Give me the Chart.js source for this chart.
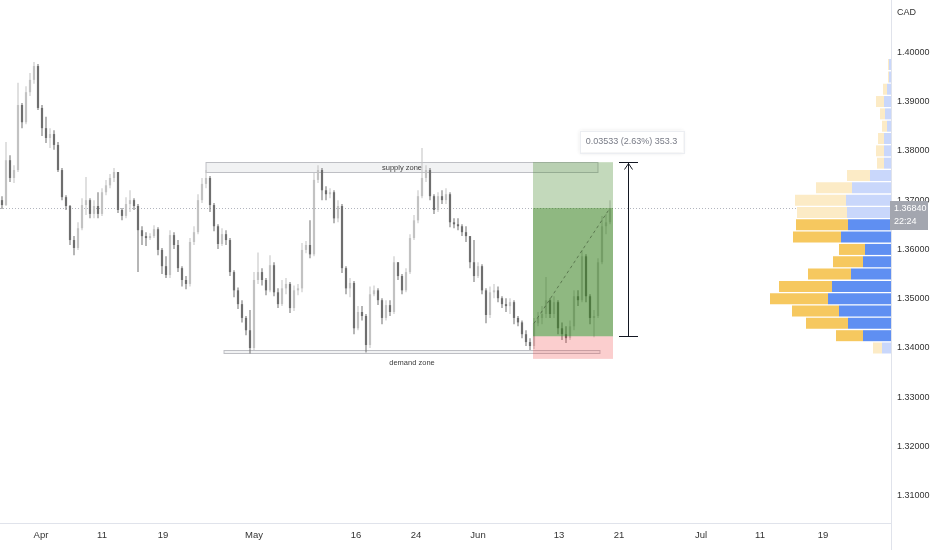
<!DOCTYPE html>
<html lang="en">
<head>
    <meta charset="UTF-8">
    <title>CAD 4H chart</title>
    <script src="https://cdn.jsdelivr.net/npm/chart.js"></script>
    <style>
        html, body { margin: 0; padding: 0; background: #ffffff; }
        #wrap { position: relative; width: 932px; height: 550px; }
    </style>
</head>
<body>
    <div id="wrap"><canvas id="chart"></canvas></div>

    <script>
        // candles
        const opens = [
            1.3700, 1.3690, 1.3781, 1.3745, 1.3761, 1.3893, 1.3858, 1.3919, 1.3944, 1.3972,
            1.3887, 1.3846, 1.3826, 1.3834, 1.3812, 1.3761, 1.3706, 1.3688, 1.3619, 1.3603,
            1.3643, 1.3690, 1.3700, 1.3672, 1.3688, 1.3672, 1.3716, 1.3730, 1.3745, 1.3757,
            1.3680, 1.3668, 1.3692, 1.3700, 1.3688, 1.3639, 1.3627, 1.3623, 1.3627, 1.3641,
            1.3599, 1.3566, 1.3548, 1.3629, 1.3609, 1.3562, 1.3538, 1.3530, 1.3615, 1.3635,
            1.3700, 1.3733, 1.3745, 1.3690, 1.3647, 1.3611, 1.3631, 1.3619, 1.3554, 1.3517,
            1.3489, 1.3461, 1.3436, 1.3400, 1.3538, 1.3554, 1.3538, 1.3517, 1.3568, 1.3513,
            1.3489, 1.3521, 1.3530, 1.3481, 1.3517, 1.3521, 1.3599, 1.3609, 1.3590, 1.3741,
            1.3761, 1.3720, 1.3712, 1.3716, 1.3663, 1.3688, 1.3562, 1.3521, 1.3532, 1.3440,
            1.3473, 1.3465, 1.3406, 1.3509, 1.3517, 1.3497, 1.3461, 1.3487, 1.3473, 1.3574,
            1.3546, 1.3517, 1.3554, 1.3623, 1.3659, 1.3708, 1.3745, 1.3761, 1.3708, 1.3680,
            1.3708, 1.3700, 1.3712, 1.3655, 1.3651, 1.3647, 1.3635, 1.3627, 1.3574, 1.3546,
            1.3566, 1.3517, 1.3467, 1.3513, 1.3517, 1.3501, 1.3489, 1.3485, 1.3493, 1.3461,
            1.3452, 1.3428, 1.3412, 1.3404, 1.3450, 1.3461, 1.3469, 1.3497, 1.3469, 1.3493,
            1.3440, 1.3428, 1.3420, 1.3444, 1.3505, 1.3497, 1.3586, 1.3505, 1.3461, 1.3465,
            1.3574, 1.3647, 1.3655
        ];
        const highs = [
            1.3708, 1.3818, 1.3791, 1.3771, 1.3938, 1.3897, 1.3931, 1.3958, 1.3980, 1.3976,
            1.3893, 1.3869, 1.3846, 1.3842, 1.3818, 1.3765, 1.3710, 1.3690, 1.3627, 1.3655,
            1.3704, 1.3747, 1.3704, 1.3700, 1.3716, 1.3724, 1.3741, 1.3753, 1.3765, 1.3757,
            1.3684, 1.3706, 1.3720, 1.3704, 1.3692, 1.3647, 1.3635, 1.3633, 1.3649, 1.3645,
            1.3603, 1.3586, 1.3639, 1.3635, 1.3619, 1.3566, 1.3546, 1.3623, 1.3647, 1.3712,
            1.3745, 1.3761, 1.3749, 1.3694, 1.3651, 1.3643, 1.3639, 1.3623, 1.3558, 1.3523,
            1.3497, 1.3465, 1.3477, 1.3554, 1.3594, 1.3562, 1.3542, 1.3588, 1.3574, 1.3521,
            1.3538, 1.3542, 1.3534, 1.3527, 1.3530, 1.3613, 1.3617, 1.3659, 1.3755, 1.3771,
            1.3765, 1.3728, 1.3724, 1.3720, 1.3700, 1.3692, 1.3566, 1.3542, 1.3536, 1.3485,
            1.3485, 1.3469, 1.3525, 1.3527, 1.3521, 1.3501, 1.3497, 1.3497, 1.3586, 1.3574,
            1.3550, 1.3562, 1.3631, 1.3670, 1.3720, 1.3806, 1.3771, 1.3765, 1.3712, 1.3716,
            1.3720, 1.3724, 1.3716, 1.3663, 1.3663, 1.3651, 1.3647, 1.3627, 1.3619, 1.3574,
            1.3570, 1.3521, 1.3525, 1.3530, 1.3525, 1.3505, 1.3501, 1.3501, 1.3497, 1.3465,
            1.3456, 1.3436, 1.3420, 1.3461, 1.3473, 1.3485, 1.3544, 1.3501, 1.3505, 1.3497,
            1.3452, 1.3444, 1.3456, 1.3517, 1.3517, 1.3599, 1.3590, 1.3509, 1.3477, 1.3582,
            1.3668, 1.3672, 1.3700
        ];
        const lows = [
            1.3682, 1.3688, 1.3737, 1.3735, 1.3757, 1.3846, 1.3854, 1.3911, 1.3936, 1.3883,
            1.3830, 1.3816, 1.3806, 1.3802, 1.3757, 1.3700, 1.3680, 1.3609, 1.3588, 1.3599,
            1.3639, 1.3670, 1.3663, 1.3663, 1.3663, 1.3668, 1.3710, 1.3724, 1.3737, 1.3674,
            1.3659, 1.3663, 1.3676, 1.3680, 1.3554, 1.3609, 1.3607, 1.3619, 1.3623, 1.3588,
            1.3550, 1.3542, 1.3542, 1.3601, 1.3554, 1.3525, 1.3519, 1.3525, 1.3609, 1.3631,
            1.3694, 1.3724, 1.3676, 1.3637, 1.3601, 1.3607, 1.3609, 1.3546, 1.3503, 1.3479,
            1.3452, 1.3426, 1.3389, 1.3396, 1.3530, 1.3527, 1.3507, 1.3513, 1.3505, 1.3481,
            1.3485, 1.3509, 1.3471, 1.3475, 1.3507, 1.3513, 1.3592, 1.3582, 1.3586, 1.3735,
            1.3700, 1.3700, 1.3704, 1.3653, 1.3655, 1.3552, 1.3509, 1.3503, 1.3428, 1.3436,
            1.3456, 1.3391, 1.3400, 1.3505, 1.3487, 1.3448, 1.3456, 1.3465, 1.3469, 1.3538,
            1.3509, 1.3513, 1.3550, 1.3619, 1.3653, 1.3704, 1.3737, 1.3700, 1.3672, 1.3676,
            1.3692, 1.3692, 1.3645, 1.3643, 1.3639, 1.3627, 1.3615, 1.3562, 1.3534, 1.3542,
            1.3509, 1.3450, 1.3461, 1.3501, 1.3493, 1.3481, 1.3473, 1.3469, 1.3448, 1.3444,
            1.3420, 1.3404, 1.3396, 1.3398, 1.3444, 1.3448, 1.3461, 1.3461, 1.3461, 1.3428,
            1.3416, 1.3410, 1.3416, 1.3436, 1.3485, 1.3493, 1.3493, 1.3448, 1.3422, 1.3461,
            1.3570, 1.3631, 1.3651
        ];
        const closes = [
            1.3690, 1.3781, 1.3745, 1.3761, 1.3893, 1.3858, 1.3919, 1.3944, 1.3972, 1.3887,
            1.3846, 1.3826, 1.3834, 1.3812, 1.3761, 1.3706, 1.3688, 1.3619, 1.3603, 1.3643,
            1.3690, 1.3700, 1.3672, 1.3688, 1.3672, 1.3716, 1.3730, 1.3745, 1.3757, 1.3680,
            1.3668, 1.3692, 1.3700, 1.3688, 1.3639, 1.3627, 1.3623, 1.3627, 1.3641, 1.3599,
            1.3566, 1.3548, 1.3629, 1.3609, 1.3562, 1.3538, 1.3530, 1.3615, 1.3635, 1.3700,
            1.3733, 1.3745, 1.3690, 1.3647, 1.3611, 1.3631, 1.3619, 1.3554, 1.3517, 1.3489,
            1.3461, 1.3436, 1.3400, 1.3538, 1.3554, 1.3538, 1.3517, 1.3568, 1.3513, 1.3489,
            1.3521, 1.3530, 1.3481, 1.3517, 1.3521, 1.3599, 1.3609, 1.3590, 1.3741, 1.3761,
            1.3720, 1.3712, 1.3716, 1.3663, 1.3688, 1.3562, 1.3521, 1.3532, 1.3440, 1.3473,
            1.3465, 1.3406, 1.3509, 1.3517, 1.3497, 1.3461, 1.3487, 1.3473, 1.3574, 1.3546,
            1.3517, 1.3554, 1.3623, 1.3659, 1.3708, 1.3745, 1.3761, 1.3708, 1.3680, 1.3708,
            1.3700, 1.3712, 1.3655, 1.3651, 1.3647, 1.3635, 1.3627, 1.3574, 1.3546, 1.3566,
            1.3517, 1.3467, 1.3513, 1.3517, 1.3501, 1.3489, 1.3485, 1.3493, 1.3461, 1.3452,
            1.3428, 1.3412, 1.3404, 1.3450, 1.3461, 1.3469, 1.3497, 1.3469, 1.3493, 1.3440,
            1.3428, 1.3420, 1.3444, 1.3505, 1.3497, 1.3586, 1.3505, 1.3461, 1.3465, 1.3574,
            1.3647, 1.3655, 1.3684
        ];

        // time axis (in candle slots) and price axis
        const dateTickPos = [9.75, 25, 40.25, 63, 88.5, 103.5, 119, 139.25, 154.25, 174.75, 189.5, 205.25];
        const dateTickLabels = ['Apr', '11', '19', 'May', '16', '24', 'Jun', '13', '21', 'Jul', '11', '19'];
        const priceTicks = [1.31, 1.32, 1.33, 1.34, 1.35, 1.36, 1.37, 1.38, 1.39, 1.40];

        // volume profile rows
        const vpLevels = [
            1.3400, 1.3425, 1.3450, 1.3475, 1.3500, 1.3525, 1.3550, 1.3575, 1.3600, 1.3625, 1.3650, 1.3675,
            1.3700, 1.3725, 1.3750, 1.3775, 1.3800, 1.3825, 1.3850, 1.3875, 1.3900, 1.3925, 1.3950, 1.3975
        ];
        const vpBuy = [9, 28, 43, 52, 63, 59, 40, 28, 26, 50, 43, 44, 45, 39, 21, 7, 7, 7, 4, 6, 7, 4, 2, 2];
        const vpSell = [9, 27, 42, 47, 58, 53, 43, 30, 26, 48, 52, 50, 51, 36, 23, 7, 8, 6, 5, 5, 8, 4, 1, 1];
        const valueArea = [1.3425, 1.3650];

        // drawings
        const lastPrice = 1.36840;
        const countdown = '22:24';
        const currency = 'CAD';
        const supplyZone = { from: 51, to: 149, top: 1.3778, bottom: 1.3758 };
        const demandZone = { from: 55.5, to: 149.5, top: 1.3395, bottom: 1.3390 };
        const longPos = { from: 132.75, to: 152.75, entry: 1.34237, target: 1.37770, stop: 1.3378 };
        const progress = { from: 133, to: 152 };
        const measure = { at: 156.5, half: 2.5, from: 1.34237, to: 1.37770, label: '0.03533 (2.63%) 353.3' };

        const FONT = "'Liberation Sans', Arial, sans-serif";
        const upColor = '#c2c2c2';
        const downColor = '#6e6e6e';

        const slots = closes.map((c, i) => i);
        const candleColors = slots.map(i => closes[i] >= opens[i] ? upColor : downColor);
        const inVA = p => p >= valueArea[0] && p <= valueArea[1];

        const overlay = {
            id: 'overlay',
            beforeDatasetsDraw(chart) {
                const { ctx, chartArea: a, scales: { x, y } } = chart;
                ctx.save();

                // last price dotted line
                const ly = Math.round(y.getPixelForValue(lastPrice)) + 0.5;
                ctx.strokeStyle = '#b2b5be';
                ctx.lineWidth = 1;
                ctx.setLineDash([1, 2]);
                ctx.beginPath();
                ctx.moveTo(a.left, ly);
                ctx.lineTo(a.right, ly);
                ctx.stroke();
                ctx.setLineDash([]);

                // zones
                const zones = [[supplyZone, 'supply zone', 0], [demandZone, 'demand zone', 1]];
                zones.forEach(([z, txt, below]) => {
                    const x1 = x.getPixelForValue(z.from), x2 = x.getPixelForValue(z.to);
                    const y1 = Math.round(y.getPixelForValue(z.top)) + 0.5;
                    const y2 = Math.round(y.getPixelForValue(z.bottom)) + 0.5;
                    ctx.fillStyle = 'rgba(120,123,134,0.10)';
                    ctx.fillRect(x1, y1, x2 - x1, y2 - y1);
                    ctx.strokeStyle = 'rgba(120,123,134,0.45)';
                    ctx.strokeRect(x1, y1, x2 - x1, y2 - y1);
                    ctx.fillStyle = '#3c3c3c';
                    ctx.font = '7.5px ' + FONT;
                    ctx.textAlign = 'center';
                    ctx.textBaseline = 'middle';
                    ctx.fillText(txt, (x1 + x2) / 2, below ? y2 + 9 : (y1 + y2) / 2);
                });
                ctx.restore();
            },
            afterDatasetsDraw(chart) {
                const { ctx, chartArea: a, scales: { x, y } } = chart;
                ctx.save();

                // long position box
                const x1 = x.getPixelForValue(longPos.from), x2 = x.getPixelForValue(longPos.to);
                const yT = y.getPixelForValue(longPos.target);
                const yC = y.getPixelForValue(lastPrice);
                const yE = y.getPixelForValue(longPos.entry);
                const yS = y.getPixelForValue(longPos.stop);
                ctx.fillStyle = 'rgba(56,128,30,0.30)';
                ctx.fillRect(x1, yT, x2 - x1, yC - yT);
                ctx.fillStyle = 'rgba(56,128,30,0.56)';
                ctx.fillRect(x1, yC, x2 - x1, yE - yC);
                ctx.fillStyle = 'rgba(240,60,60,0.25)';
                ctx.fillRect(x1, yE, x2 - x1, yS - yE);

                // progress dashed line
                ctx.strokeStyle = 'rgba(50,70,40,0.55)';
                ctx.lineWidth = 1;
                ctx.setLineDash([3, 3]);
                ctx.beginPath();
                ctx.moveTo(x.getPixelForValue(progress.from), y.getPixelForValue(closes[progress.from]));
                ctx.lineTo(x.getPixelForValue(progress.to), y.getPixelForValue(closes[progress.to]));
                ctx.stroke();
                ctx.setLineDash([]);

                // measure arrow
                const mx = Math.round(x.getPixelForValue(measure.at)) + 0.5;
                const hw = x.getPixelForValue(measure.at + measure.half) - mx;
                const mt = Math.round(y.getPixelForValue(measure.to)) + 0.5;
                const mb = Math.round(y.getPixelForValue(measure.from)) + 0.5;
                ctx.strokeStyle = '#131722';
                ctx.beginPath();
                ctx.moveTo(mx, mt); ctx.lineTo(mx, mb);
                ctx.moveTo(mx - hw, mt); ctx.lineTo(mx + hw, mt);
                ctx.moveTo(mx - hw, mb); ctx.lineTo(mx + hw, mb);
                ctx.moveTo(mx - 4, mt + 7); ctx.lineTo(mx, mt + 1); ctx.lineTo(mx + 4, mt + 7);
                ctx.stroke();

                // measure label
                ctx.font = '9px ' + FONT;
                const tw = ctx.measureText(measure.label).width;
                const bw = tw + 12, bh = 22;
                const bx = mx + 3 - bw / 2, by = mt - 10 - bh;
                ctx.shadowColor = 'rgba(0,0,0,0.12)';
                ctx.shadowBlur = 4;
                ctx.fillStyle = '#ffffff';
                ctx.fillRect(bx, by, bw, bh);
                ctx.shadowBlur = 0;
                ctx.shadowColor = 'transparent';
                ctx.strokeStyle = '#eceef2';
                ctx.strokeRect(Math.round(bx) + 0.5, Math.round(by) + 0.5, Math.round(bw), bh);
                ctx.fillStyle = '#787b86';
                ctx.textAlign = 'center';
                ctx.textBaseline = 'middle';
                ctx.fillText(measure.label, mx + 3, by + bh / 2 + 0.5);

                // axis extension below the plot
                ctx.strokeStyle = '#e0e3eb';
                ctx.beginPath();
                ctx.moveTo(a.right + 0.5, a.bottom);
                ctx.lineTo(a.right + 0.5, chart.height);
                ctx.stroke();

                // last price tag on the axis
                const ly = Math.round(y.getPixelForValue(lastPrice));
                ctx.fillStyle = '#a3a6af';
                ctx.fillRect(a.right - 1, ly - 7, 38, 29);
                ctx.fillStyle = '#ffffff';
                ctx.font = '9px ' + FONT;
                ctx.textAlign = 'left';
                ctx.textBaseline = 'middle';
                ctx.fillText(lastPrice.toFixed(5), a.right + 3, ly + 1);
                ctx.fillText(countdown, a.right + 3, ly + 14);

                // currency
                ctx.fillStyle = '#333333';
                ctx.fillText(currency, a.right + 6, 13);
                ctx.restore();
            }
        };

        const ctx = document.getElementById('chart').getContext('2d');
        const chart = new Chart(ctx, {
            type: 'bar',
            data: {
                datasets: [
                    {
                        label: 'bodies',
                        data: slots.map(i => ({ x: i, y: [opens[i], closes[i]] })),
                        backgroundColor: candleColors,
                        barThickness: 2.2,
                        minBarLength: 1,
                        grouped: false,
                        inflateAmount: 0,
                        xAxisID: 'x',
                        yAxisID: 'y'
                    },
                    {
                        label: 'wicks',
                        data: slots.map(i => ({ x: i, y: [lows[i], highs[i]] })),
                        backgroundColor: candleColors,
                        barThickness: 1,
                        grouped: false,
                        inflateAmount: 0,
                        xAxisID: 'x',
                        yAxisID: 'y'
                    },
                    {
                        label: 'buy volume',
                        indexAxis: 'y',
                        data: vpLevels.map((p, k) => ({ y: p, x: [0, vpBuy[k]] })),
                        backgroundColor: vpLevels.map(p => inVA(p) ? '#5f8ff2' : '#c9d7fb'),
                        barThickness: 11,
                        grouped: false,
                        inflateAmount: 0,
                        xAxisID: 'xv',
                        yAxisID: 'y'
                    },
                    {
                        label: 'sell volume',
                        indexAxis: 'y',
                        data: vpLevels.map((p, k) => ({ y: p, x: [vpBuy[k], vpBuy[k] + vpSell[k]] })),
                        backgroundColor: vpLevels.map(p => inVA(p) ? '#f6c85f' : '#fcebc6'),
                        barThickness: 11,
                        grouped: false,
                        inflateAmount: 0,
                        xAxisID: 'xv',
                        yAxisID: 'y'
                    }
                ]
            },
            options: {
                responsive: true,
                maintainAspectRatio: false,
                animation: false,
                layout: { padding: 0 },
                plugins: {
                    legend: { display: false },
                    tooltip: { enabled: false }
                },
                scales: {
                    x: {
                        type: 'linear',
                        min: -0.5,
                        max: 222.25,
                        offset: false,
                        grid: { display: false, drawTicks: false, offset: false },
                        border: { display: true, color: '#e0e3eb' },
                        ticks: {
                            padding: 7,
                            autoSkip: false,
                            maxRotation: 0,
                            color: '#333333',
                            font: { family: FONT, size: 9.5 },
                            callback: (v, i) => dateTickLabels[i]
                        },
                        afterBuildTicks: s => { s.ticks = dateTickPos.map(v => ({ value: v })); },
                        afterFit: s => { s.height = 27; s.paddingLeft = 0; s.paddingRight = 0; }
                    },
                    xv: {
                        type: 'linear',
                        display: false,
                        offset: false,
                        reverse: true,
                        min: 0,
                        max: 891
                    },
                    y: {
                        type: 'linear',
                        position: 'right',
                        min: 1.3045,
                        max: 1.4106,
                        offset: false,
                        beginAtZero: false,
                        grid: { display: false, drawTicks: false, offset: false },
                        border: { display: true, color: '#e0e3eb' },
                        ticks: {
                            padding: 6,
                            color: '#333333',
                            font: { family: FONT, size: 9 },
                            callback: v => v.toFixed(5)
                        },
                        afterBuildTicks: s => { s.ticks = priceTicks.map(v => ({ value: v })); },
                        afterFit: s => { s.width = 41; s.paddingTop = 0; s.paddingBottom = 0; }
                    }
                }
            },
            plugins: [overlay]
        });
    </script>
</body>
</html>
